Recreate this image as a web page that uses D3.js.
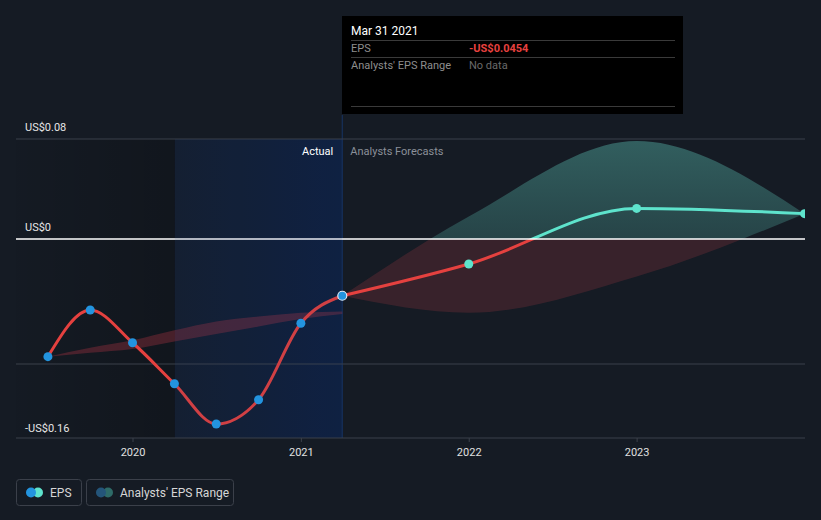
<!DOCTYPE html>
<html><head><meta charset="utf-8">
<script src="https://cdn.jsdelivr.net/npm/d3@7"></script>
<style>
html,body{margin:0;padding:0;background:#151b24;}
svg{display:block;font-family:Roboto,"Noto Sans",sans-serif;}
</style></head>
<body><svg id="c" width="821" height="520"></svg>
<script>
// ---- data ----
const actualDates = ["2019-06-30","2019-09-30","2019-12-31","2020-03-31","2020-06-30","2020-09-30","2020-12-31","2021-03-31"];
const actualEPS   = [-0.0941,-0.0568,-0.0830,-0.1158,-0.1480,-0.1286,-0.0674,-0.0454];
const pastRangeHigh = [-0.0941,-0.0870,-0.0810,-0.0730,-0.0660,-0.0620,-0.0590,-0.0580];
const pastRangeLow  = [-0.0941,-0.0910,-0.0880,-0.0820,-0.0760,-0.0700,-0.0640,-0.0600];
const forecastDates = ["2021-03-31","2021-12-31","2022-12-31","2023-12-31"];
const forecastEPS   = [-0.0454,-0.0200,0.0245,0.0203];
const forecastHigh  = [-0.0454,0.0180,0.0784,0.0203];
const forecastLow   = [-0.0454,-0.0590,-0.0300,0.0203];
const yTicks = [0.08, 0, -0.16];
const yTickLabels = ["US$0.08","US$0","-US$0.16"];
const yGrid = [0.08, -0.1];
const xTickYears = ["2020","2021","2022","2023"];
const tooltipTitle = "Mar 31 2021";
const tooltipEPS = "-US$0.0454";

// ---- layout ----
const svg = d3.select("#c");
const L = 16, R = 805, T = 139, B = 438;
const parse = d3.utcParse("%Y-%m-%d");
const x0 = d3.scaleUtc().domain([parse("2020-01-01"), parse("2024-01-01")]).range([133, 805]);
const x = d3.scaleUtc().domain([x0.invert(L), parse("2024-01-01")]).range([L, R]);
const y = d3.scaleLinear().domain([-0.16, 0.08]).range([439, 139]);

const actual = actualDates.map((d,i)=>({d:parse(d), v:actualEPS[i], hi:pastRangeHigh[i], lo:pastRangeLow[i]}));
const fc = forecastDates.map((d,i)=>({d:parse(d), v:forecastEPS[i], hi:forecastHigh[i], lo:forecastLow[i]}));
const splitX = x(parse("2021-03-31"));
const darkStart = x(parse("2020-04-01"));

const defs = svg.append("defs");
const gDark = defs.append("linearGradient").attr("id","gDark");
gDark.append("stop").attr("offset","0").attr("stop-color","#000").attr("stop-opacity",0.03);
gDark.append("stop").attr("offset","1").attr("stop-color","#000").attr("stop-opacity",0.2);
const gBlue = defs.append("linearGradient").attr("id","gBlue");
gBlue.append("stop").attr("offset","0").attr("stop-color","#05245c").attr("stop-opacity",0.12);
gBlue.append("stop").attr("offset","1").attr("stop-color","#05245c").attr("stop-opacity",0.45);
const gTeal = defs.append("linearGradient").attr("id","gTeal").attr("x1",0).attr("x2",0)
  .attr("gradientUnits","userSpaceOnUse").attr("y1",T).attr("y2",y(0));
gTeal.append("stop").attr("offset","0").attr("stop-color","#4fa39a").attr("stop-opacity",0.5);
gTeal.append("stop").attr("offset","1").attr("stop-color","#4fa39a").attr("stop-opacity",0.3);

defs.append("clipPath").attr("id","above").append("rect").attr("x",L).attr("y",0).attr("width",R-L).attr("height",y(0));
defs.append("clipPath").attr("id","below").append("rect").attr("x",L).attr("y",y(0)).attr("width",R-L).attr("height",520-y(0));
defs.append("clipPath").attr("id","plot").append("rect").attr("x",L).attr("y",0).attr("width",R-L).attr("height",B);

// background regions
svg.append("rect").attr("x",L).attr("y",T).attr("width",darkStart-L).attr("height",B-T).attr("fill","url(#gDark)");
svg.append("rect").attr("x",darkStart).attr("y",T).attr("width",splitX-darkStart).attr("height",B-T).attr("fill","url(#gBlue)");
svg.append("line").attr("x1",splitX).attr("x2",splitX).attr("y1",115).attr("y2",B).attr("stroke","#16305a").attr("stroke-width",1.2);

// grid lines
svg.selectAll(".grid").data(yGrid).join("line")
  .attr("x1",L).attr("x2",R).attr("y1",d=>y(d)).attr("y2",d=>y(d))
  .attr("stroke","#3b404a").attr("stroke-width",1);

// past range wedge
const area = d3.area().x(d=>x(d.d)).y0(d=>y(d.lo)).y1(d=>y(d.hi)).curve(d3.curveMonotoneX);
svg.append("path").datum(actual).attr("d",area).attr("fill","#c8384a").attr("fill-opacity",0.3);

// forecast band
const gp = svg.append("g").attr("clip-path","url(#plot)");
gp.append("path").datum(fc).attr("d",area).attr("fill","url(#gTeal)").attr("clip-path","url(#above)");
gp.append("path").datum(fc).attr("d",area).attr("fill","#c8404a").attr("fill-opacity",0.2).attr("clip-path","url(#below)");

// zero line
svg.append("line").attr("x1",L).attr("x2",R).attr("y1",y(0)).attr("y2",y(0)).attr("stroke","#ffffff").attr("stroke-width",1.5);

// lines
const line = d3.line().x(d=>x(d.d)).y(d=>y(d.v)).curve(d3.curveMonotoneX);
svg.append("path").datum(actual).attr("d",line).attr("fill","none").attr("stroke","#e5413f").attr("stroke-width",3);
gp.append("path").datum(fc).attr("d",line).attr("fill","none").attr("stroke","#e5413f").attr("stroke-width",3).attr("clip-path","url(#below)");
gp.append("path").datum(fc).attr("d",line).attr("fill","none").attr("stroke","#5ee3cc").attr("stroke-width",3).attr("clip-path","url(#above)");

// light tint over the past-year line
svg.append("rect").attr("x",darkStart).attr("y",T).attr("width",splitX-darkStart).attr("height",B-T)
  .attr("fill","#1a3a7a").attr("fill-opacity",0.1);

// points
svg.selectAll(".pa").data(actual.slice(0,-1)).join("circle")
  .attr("cx",d=>x(d.d)).attr("cy",d=>y(d.v)).attr("r",4.5).attr("fill","#2394df");
gp.selectAll(".pf").data(fc.slice(1)).join("circle")
  .attr("cx",d=>x(d.d)).attr("cy",d=>y(d.v)).attr("r",4.5).attr("fill","#5ee3cc");
svg.append("circle").attr("cx",x(actual[actual.length-1].d)).attr("cy",y(actual[actual.length-1].v)).attr("r",4.5)
  .attr("fill","#2394df").attr("stroke","#dfe9f5").attr("stroke-width",1.2);

// x axis
svg.append("line").attr("x1",L).attr("x2",R).attr("y1",B).attr("y2",B).attr("stroke","#3b404a").attr("stroke-width",1.2);
const xt = xTickYears.map(s=>parse(s+"-01-01"));
svg.selectAll(".xt").data(xt).join("line").attr("x1",d=>x(d)).attr("x2",d=>x(d)).attr("y1",B).attr("y2",B+4).attr("stroke","#3b404a");
svg.selectAll(".xl").data(xt).join("text").attr("x",d=>x(d)).attr("y",456).attr("text-anchor","middle")
  .attr("fill","#e0e0e0").attr("font-size",11).text((d,i)=>xTickYears[i]);

// y labels
svg.selectAll(".yl").data(yTicks).join("text").attr("x",25).attr("y",(d,i)=>i==2?432:y(d)-8)
  .attr("fill","#e6e6e6").attr("font-size",11).text((d,i)=>yTickLabels[i]);

// Actual / Forecast labels
svg.append("text").attr("x",splitX-9).attr("y",155).attr("text-anchor","end").attr("fill","#ffffff").attr("font-size",11).text("Actual");
svg.append("text").attr("x",splitX+8).attr("y",155).attr("fill","#8b9099").attr("font-size",11).text("Analysts Forecasts");

// tooltip
const tt = svg.append("g");
tt.append("rect").attr("x",342).attr("y",16).attr("width",341).attr("height",98).attr("fill","#000000");
tt.append("text").attr("x",351).attr("y",35).attr("fill","#ffffff").attr("font-size",12).text(tooltipTitle);
[40.5,57.5,106.5].forEach(yy=>tt.append("line").attr("x1",351).attr("x2",675).attr("y1",yy).attr("y2",yy).attr("stroke","#3a3a3a"));
tt.append("text").attr("x",351).attr("y",52).attr("fill","#8e8e8e").attr("font-size",11).text("EPS");
tt.append("text").attr("x",469).attr("y",52).attr("fill","#e8413f").attr("font-size",11).attr("font-weight","bold").text(tooltipEPS);
tt.append("text").attr("x",351).attr("y",69).attr("fill","#8e8e8e").attr("font-size",11).text("Analysts' EPS Range");
tt.append("text").attr("x",469).attr("y",69).attr("fill","#6a6a6a").attr("font-size",11).text("No data");

// legend
const lg = svg.append("g");
lg.append("rect").attr("x",16.5).attr("y",479.5).attr("width",65).attr("height",26).attr("rx",3).attr("fill","none").attr("stroke","#3b404a");
lg.append("circle").attr("cx",38).attr("cy",492.5).attr("r",5).attr("fill","#5ee3cc");
lg.append("circle").attr("cx",31).attr("cy",492.5).attr("r",5).attr("fill","#2394df");
lg.append("text").attr("x",50).attr("y",497).attr("fill","#d6d6d6").attr("font-size",12).text("EPS");
lg.append("rect").attr("x",86.5).attr("y",479.5).attr("width",147).attr("height",26).attr("rx",3).attr("fill","none").attr("stroke","#3b404a");
lg.append("circle").attr("cx",108).attr("cy",492.5).attr("r",5).attr("fill","#2e6b68");
lg.append("circle").attr("cx",101).attr("cy",492.5).attr("r",5).attr("fill","#24557a");
lg.append("text").attr("x",120).attr("y",497).attr("fill","#d6d6d6").attr("font-size",12).text("Analysts' EPS Range");
</script></body></html>
